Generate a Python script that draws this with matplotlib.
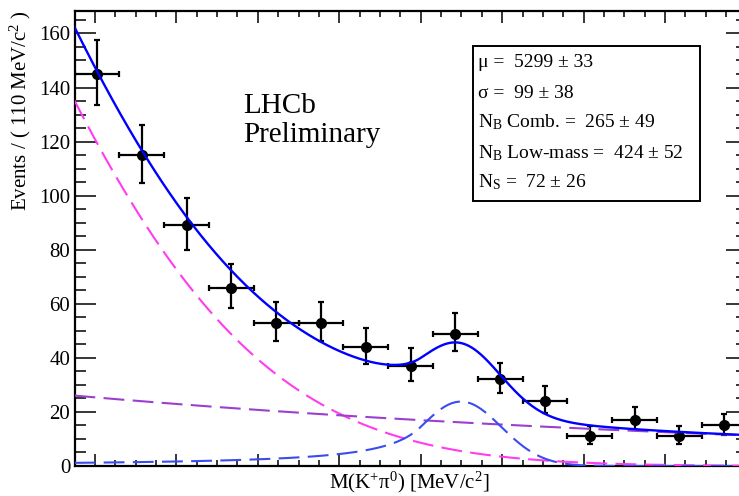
import numpy as np
import matplotlib
matplotlib.use("Agg")
import matplotlib.pyplot as plt
from matplotlib.ticker import MultipleLocator
from matplotlib.patches import Rectangle

# ---------------- data ----------------
bin_width = 110.0
x_min, x_max = 4350.0, 6000.0
bin_centers = [4405, 4515, 4625, 4735, 4845, 4955, 5065, 5175, 5285,
               5395, 5505, 5615, 5725, 5835, 5945]
counts = [145, 115, 89, 66, 53, 53, 44, 37, 49, 32, 24, 11, 17, 11, 15]
err_lo = [11.55, 10.24, 8.95, 7.64, 6.80, 6.80, 6.15, 5.60, 6.52, 5.18,
          4.42, 2.85, 3.65, 2.85, 3.41]
err_hi = [12.55, 11.24, 9.95, 8.64, 7.80, 7.80, 7.15, 6.60, 7.52, 6.18,
          5.42, 3.85, 4.65, 3.85, 4.41]

# fit results (read from the box / picture)
sig_mu, sig_sigma, sig_alpha, sig_n = 5299.0, 99.0, 1.0, 1.2
N_sig = 72.0
comb_slope = -0.000505
N_comb = 265.0
low_mean, low_sigma = 3504.0, 626.0
N_low = 424.0

box_lines = [r"μ =  5299 ± 33",
             r"σ =  99 ± 38",
             r"$\mathrm{N_B}$ Comb. =  265 ± 49",
             r"$\mathrm{N_B}$ Low-mass =  424 ± 52",
             r"$\mathrm{N_S}$ =  72 ± 26"]

# ---------------- style ----------------
plt.rcParams['font.family'] = ['Liberation Serif', 'DejaVu Serif']
plt.rcParams['mathtext.fontset'] = 'custom'
plt.rcParams['mathtext.rm'] = 'Liberation Serif'
plt.rcParams['mathtext.it'] = 'Liberation Serif:italic'
plt.rcParams['mathtext.bf'] = 'Liberation Serif:bold'

W, H = 739, 496
fig = plt.figure(figsize=(W / 100, H / 100), dpi=100)
ax = fig.add_axes([74.5 / W, 30 / H, 672 / W, 455 / H])

xs = np.linspace(x_min, x_max, 800)


def norm_to_yield(f, N):
    integ = np.trapezoid(f, xs)
    return N * bin_width * f / integ


def crystal_ball(x, mu, sigma, alpha, n):
    t = (x - mu) / sigma
    A = (n / alpha) ** n * np.exp(-alpha ** 2 / 2)
    B = n / alpha - alpha
    tail = A * np.maximum(B - t, 1e-9) ** (-n)
    return np.where(t > -alpha, np.exp(-t ** 2 / 2), tail)


sig_curve = norm_to_yield(crystal_ball(xs, sig_mu, sig_sigma, sig_alpha, sig_n), N_sig)
comb_curve = norm_to_yield(np.exp(comb_slope * (xs - x_min)), N_comb)
low_curve = norm_to_yield(np.exp(-0.5 * ((xs - low_mean) / low_sigma) ** 2), N_low)
total = sig_curve + comb_curve + low_curve

# data points
ax.errorbar(bin_centers, counts, yerr=[err_lo, err_hi], xerr=bin_width / 2,
            fmt='o', color='black', markersize=7, elinewidth=1.6,
            capsize=2.5, capthick=1.6, zorder=3)

lw = 1.5
ax.plot(xs, low_curve, color='#ff3cf0', lw=lw, dashes=(10, 4), zorder=4)
ax.plot(xs, comb_curve, color='#9a3fd0', lw=lw, dashes=(10, 4), zorder=4)
ax.plot(xs, sig_curve, color='#3a4cf0', lw=lw, dashes=(10, 4), zorder=4)
ax.plot(xs, total, color='#0000ff', lw=1.7, zorder=5)

ax.set_xlim(x_min, x_max)
ax.set_ylim(0, 168.3)

ax.xaxis.set_major_locator(MultipleLocator(200))
ax.xaxis.set_minor_locator(MultipleLocator(50))
ax.yaxis.set_major_locator(MultipleLocator(20))
ax.yaxis.set_minor_locator(MultipleLocator(5))
ax.tick_params(which='both', direction='in', top=True, right=True, width=1.1)
ax.tick_params(axis='x', which='major', length=8.6, labelbottom=False)
ax.tick_params(axis='x', which='minor', length=4.3)
ax.tick_params(axis='y', which='major', length=15, labelsize=15, pad=3)
ax.tick_params(axis='y', which='minor', length=8)
for s in ax.spines.values():
    s.set_linewidth(1.6)

# labels
fig.text(20 / W, 1 - 10 / H, r"Events / ( 110 MeV/c$^{2}$ )", rotation=90,
         ha='center', va='top', fontsize=15)
fig.text(409 / W, 1 - 488 / H, r"M(K$^{+}$π$^{0}$) [MeV/c$^{2}$]",
         ha='center', va='baseline', fontsize=15)

fig.text(242.7 / W, 1 - 112.7 / H, "LHCb", ha='left', va='baseline', fontsize=21)
fig.text(242.7 / W, 1 - 142 / H, "Preliminary", ha='left', va='baseline', fontsize=21)

# fit result box
bx0, by0, bx1, by1 = 473.3, 45.7, 700, 200.7
fig.patches.append(Rectangle((bx0 / W, 1 - by1 / H), (bx1 - bx0) / W, (by1 - by0) / H,
                             transform=fig.transFigure, fill=True, facecolor='white',
                             edgecolor='black', lw=1.4, zorder=10))
baselines = [66.7, 98.3, 127, 158.5, 187]
for txt, yb in zip(box_lines, baselines):
    fig.text(478.3 / W, 1 - yb / H, txt, ha='left', va='baseline', fontsize=14, zorder=11)

fig.savefig('out.png', dpi=100)
